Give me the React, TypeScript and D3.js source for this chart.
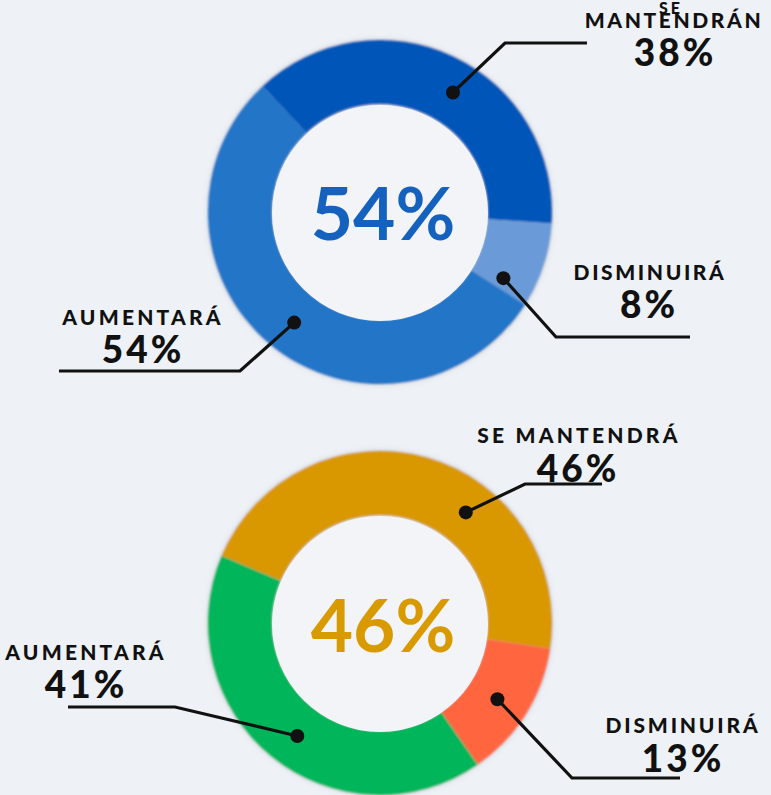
import React from "react";
import * as d3 from "d3";

const topCategories = ["SE MANTENDRÁN", "DISMINUIRÁ", "AUMENTARÁ"];
const topValues = [38, 8, 54];
const topCenterLabel = "54%";

const bottomCategories = ["SE MANTENDRÁ", "DISMINUIRÁ", "AUMENTARÁ"];
const bottomValues = [46, 13, 41];
const bottomCenterLabel = "46%";

const W = 771;
const H = 795;
const BG = "#EEF2F6";
const INNER_BG = "#F2F4F8";
const R_OUT = 172;
const R_IN = 108;

type LabelLayout = {
  angleOffset: number;
  elbow: [number, number];
  end: [number, number];
  lines: { text: string; x: number; y: number; size: number; spacing: number }[];
};

const charts = [
  {
    cx: 380,
    cy: 212,
    startDeg: -43,
    categories: topCategories,
    values: topValues,
    colors: ["#0257B8", "#6B9BD8", "#2175C7"],
    center: topCenterLabel,
    centerColor: "#1561BE",
    centerY: 240,
    labels: [
      {
        angleOffset: 6,
        elbow: [505, 43],
        end: [587, 43],
        lines: [
          { text: "SE", x: 671, y: 14, size: 16, spacing: 3 },
          { text: "MANTENDRÁN", x: 674, y: 28, size: 21, spacing: 2.6 },
          { text: "38%", x: 675, y: 66, size: 37, spacing: 3 },
        ],
      },
      {
        angleOffset: 10,
        elbow: [556, 337],
        end: [690, 337],
        lines: [
          { text: "DISMINUIRÁ", x: 650, y: 280, size: 21, spacing: 2.6 },
          { text: "8%", x: 649, y: 318, size: 37, spacing: 3 },
        ],
      },
      {
        angleOffset: -2,
        elbow: [240, 371],
        end: [59, 371],
        lines: [
          { text: "AUMENTARÁ", x: 143, y: 325, size: 21, spacing: 3.2 },
          { text: "54%", x: 143, y: 363, size: 37, spacing: 3 },
        ],
      },
    ] as LabelLayout[],
  },
  {
    cx: 380,
    cy: 623,
    startDeg: -67,
    categories: bottomCategories,
    values: bottomValues,
    colors: ["#D99700", "#FF6641", "#00B55A"],
    center: bottomCenterLabel,
    centerColor: "#D99A00",
    centerY: 652,
    labels: [
      {
        angleOffset: 22,
        elbow: [525, 484],
        end: [602, 484],
        lines: [
          { text: "SE MANTENDRÁ", x: 579, y: 443, size: 21, spacing: 3.2 },
          { text: "46%", x: 578, y: 482, size: 37, spacing: 3 },
        ],
      },
      {
        angleOffset: 1,
        elbow: [572, 778],
        end: [680, 778],
        lines: [
          { text: "DISMINUIRÁ", x: 683, y: 733, size: 21, spacing: 2.8 },
          { text: "13%", x: 683, y: 772, size: 37, spacing: 3 },
        ],
      },
      {
        angleOffset: -3,
        elbow: [175, 707],
        end: [68, 707],
        lines: [
          { text: "AUMENTARÁ", x: 86, y: 660, size: 21, spacing: 3.2 },
          { text: "41%", x: 86, y: 698, size: 37, spacing: 3 },
        ],
      },
    ] as LabelLayout[],
  },
];

const LABEL_FONT = "Lato, 'Open Sans', sans-serif";

function Donut({ chart }: { chart: (typeof charts)[number] }) {
  const start = (chart.startDeg * Math.PI) / 180;
  const pie = d3
    .pie<number>()
    .sort(null)
    .value((d) => d)
    .startAngle(start)
    .endAngle(start + Math.PI * 2);
  const arcs = pie(chart.values);
  const arc = d3.arc<d3.PieArcDatum<number>>().innerRadius(R_IN).outerRadius(R_OUT);
  const midR = (R_IN + R_OUT) / 2;

  return (
    <g>
      <g transform={`translate(${chart.cx},${chart.cy})`} filter="url(#soft)">
        {arcs.map((a, i) => (
          <path key={chart.categories[i]} d={arc(a) || ""} fill={chart.colors[i]} />
        ))}
      </g>
      <circle cx={chart.cx} cy={chart.cy + 1} r={R_IN} fill={INNER_BG} />
      <text
        x={chart.cx + 3}
        y={chart.centerY}
        textAnchor="middle"
        fontFamily={LABEL_FONT}
        fontWeight={700}
        fontSize={73}
        fill={chart.centerColor}
      >
        {chart.center}
      </text>
      {arcs.map((a, i) => {
        const lay = chart.labels[i];
        const ang = (a.startAngle + a.endAngle) / 2 + (lay.angleOffset * Math.PI) / 180;
        const dx = chart.cx + midR * Math.sin(ang);
        const dy = chart.cy - midR * Math.cos(ang);
        const pts: [number, number][] = [[dx, dy], lay.elbow, lay.end];
        return (
          <g key={"l" + i}>
            <path
              d={d3.line()(pts) || ""}
              fill="none"
              stroke="#111"
              strokeWidth={3.2}
              strokeLinejoin="miter"
            />
            <circle cx={dx} cy={dy} r={7} fill="#111" />
            {lay.lines.map((ln) => (
              <text
                key={ln.text}
                x={ln.x}
                y={ln.y}
                textAnchor="middle"
                fontFamily={LABEL_FONT}
                fontWeight={900}
                fontSize={ln.size}
                letterSpacing={ln.spacing}
                fill="#111"
              >
                {ln.text}
              </text>
            ))}
          </g>
        );
      })}
    </g>
  );
}

export default function App() {
  return (
    <svg
      width={W}
      height={H}
      style={{ position: "absolute", left: 0, top: 0, display: "block" }}
    >
      <defs>
        <filter id="soft" x="-20%" y="-20%" width="140%" height="140%">
          <feGaussianBlur in="SourceGraphic" stdDeviation="0.8" result="b" />
          <feDropShadow dx="0" dy="0" stdDeviation="2.5" floodColor="#8a93a0" floodOpacity="0.5" />
        </filter>
      </defs>
      <rect x={0} y={0} width={W} height={H} fill={BG} />
      {charts.map((c, i) => (
        <Donut key={i} chart={c} />
      ))}
    </svg>
  );
}
